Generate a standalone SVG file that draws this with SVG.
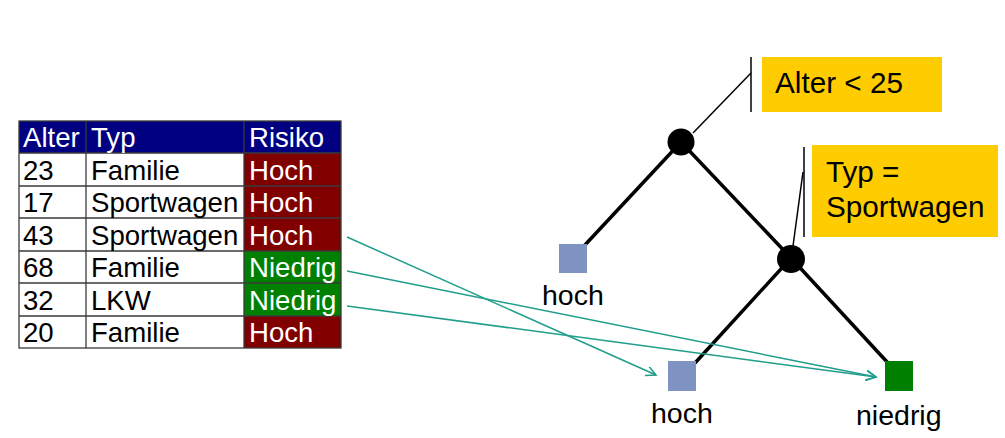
<svg xmlns="http://www.w3.org/2000/svg" width="1005" height="438" viewBox="0 0 1005 438">
<style>
text{font-family:"Liberation Sans",Arial,sans-serif;}
.t{font-size:27.6px;fill:#000;}
.w{font-size:27.6px;fill:#fff;}
.lbl{font-size:28.5px;fill:#000;}
.cond{font-size:29.7px;fill:#000;}
.grid{stroke:#3a3a3a;stroke-width:1.3;fill:none;}
.edge{stroke:#000;stroke-width:3.5;}
.thin{stroke:#000;stroke-width:1.5;}
.arr{stroke:#1f9e8a;stroke-width:1.5;fill:none;marker-end:url(#ah);}
</style>
<defs>
<marker id="ah" markerWidth="12" markerHeight="12" refX="10" refY="5" orient="auto" markerUnits="userSpaceOnUse">
<path d="M0,0 L10,5 L0,10" fill="none" stroke="#1f9e8a" stroke-width="1.5"/>
</marker>
</defs>
<rect width="1005" height="438" fill="#fff"/>
<g id="table">
<rect x="19" y="121" width="322" height="32" fill="#000080"/>
<rect x="244" y="153" width="97" height="98" fill="#800000"/>
<rect x="244" y="251" width="97" height="65" fill="#008000"/>
<rect x="244" y="316" width="97" height="32" fill="#800000"/>
<rect class="grid" x="19" y="121" width="322" height="227"/>
<line class="grid" x1="86" y1="121" x2="86" y2="348"/>
<line class="grid" x1="244" y1="121" x2="244" y2="348"/>
<line class="grid" x1="19" y1="153" x2="341" y2="153"/>
<line class="grid" x1="19" y1="186" x2="341" y2="186"/>
<line class="grid" x1="19" y1="218" x2="341" y2="218"/>
<line class="grid" x1="19" y1="251" x2="341" y2="251"/>
<line class="grid" x1="19" y1="283" x2="341" y2="283"/>
<line class="grid" x1="19" y1="316" x2="341" y2="316"/>
<text class="w" x="23" y="147">Alter</text>
<text class="w" x="91" y="147">Typ</text>
<text class="w" x="249" y="147">Risiko</text>
<text class="t" x="23" y="180">23</text><text class="t" x="91" y="180">Familie</text><text class="w" x="249" y="180">Hoch</text>
<text class="t" x="23" y="212">17</text><text class="t" x="91" y="212">Sportwagen</text><text class="w" x="249" y="212">Hoch</text>
<text class="t" x="23" y="245">43</text><text class="t" x="91" y="245">Sportwagen</text><text class="w" x="249" y="245">Hoch</text>
<text class="t" x="23" y="277">68</text><text class="t" x="91" y="277">Familie</text><text class="w" x="249" y="277">Niedrig</text>
<text class="t" x="23" y="310">32</text><text class="t" x="91" y="310">LKW</text><text class="w" x="249" y="310">Niedrig</text>
<text class="t" x="23" y="342">20</text><text class="t" x="91" y="342">Familie</text><text class="w" x="249" y="342">Hoch</text>
</g>
<g id="connectors">
<line class="edge" x1="681" y1="142" x2="584" y2="246"/>
<line class="edge" x1="681" y1="142" x2="791" y2="258"/>
<line class="edge" x1="791" y1="258" x2="695" y2="363"/>
<line class="edge" x1="791" y1="258" x2="888" y2="363"/>
<line class="thin" x1="693" y1="133" x2="751" y2="73"/>
<line class="thin" x1="793" y1="246" x2="803" y2="172"/>
<path class="arr" d="M347,237 L656,375"/>
<path class="arr" d="M347,271 L876,377"/>
<path class="arr" d="M347,306 L876,377"/>
</g>
<g id="cond1">
<line class="thin" x1="751" y1="57" x2="751" y2="112"/>
<rect x="762" y="57" width="180" height="55" fill="#ffcc00"/>
<text class="cond" x="775" y="93">Alter &lt; 25</text>
</g>
<g id="cond2">
<line class="thin" x1="804" y1="147" x2="804" y2="237"/>
<rect x="812" y="145" width="186" height="92" fill="#ffcc00"/>
<text class="cond" x="826" y="182">Typ =</text>
<text class="cond" x="826" y="217">Sportwagen</text>
</g>
<g id="node-root"><circle cx="681" cy="142" r="13.5" fill="#000"/></g>
<g id="node-typ"><circle cx="791" cy="259" r="14" fill="#000"/></g>
<g id="leaf-hoch1">
<rect x="559" y="244" width="28" height="29" fill="#7f93c3"/>
<text class="lbl" x="542" y="305">hoch</text>
</g>
<g id="leaf-hoch2">
<rect x="668" y="361" width="28" height="30" fill="#7f93c3"/>
<text class="lbl" x="651" y="423">hoch</text>
</g>
<g id="leaf-niedrig">
<rect x="885" y="361" width="28" height="30" fill="#008000"/>
<text class="lbl" x="856" y="425">niedrig</text>
</g>
</svg>
